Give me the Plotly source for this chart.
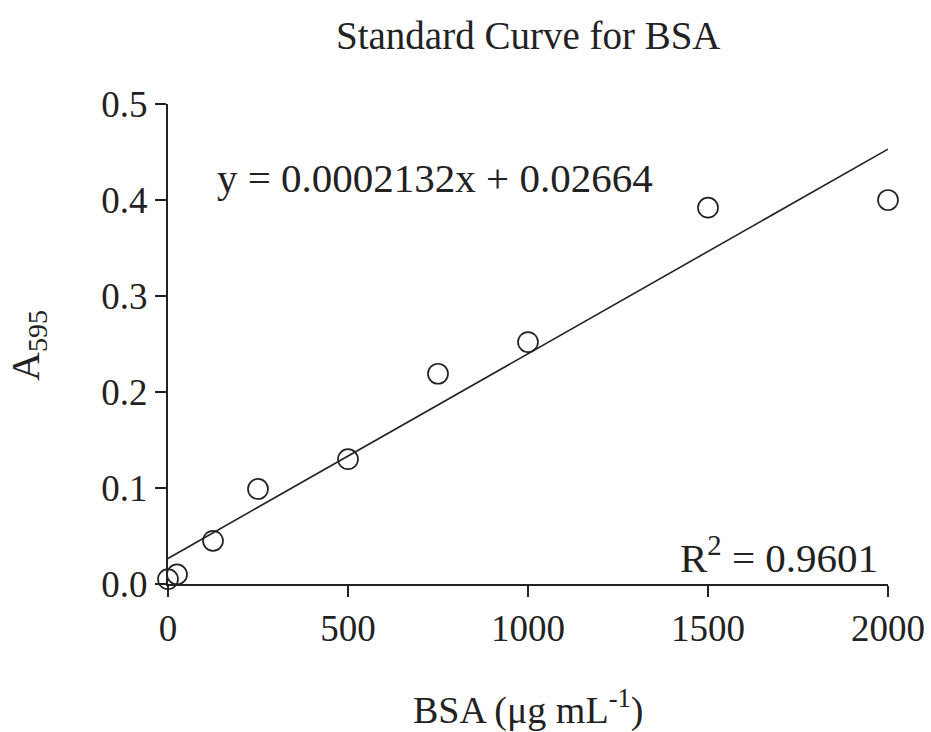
import plotly.graph_objects as go

bsa = [0, 25, 125, 250, 500, 750, 1000, 1500, 2000]
a595 = [0.005, 0.010, 0.045, 0.099, 0.130, 0.219, 0.252, 0.392, 0.400]
slope = 0.0002132
intercept = 0.02664
fit_x = [0, 2000]
fit_y = [slope * x + intercept for x in fit_x]
x_ticks = [0, 500, 1000, 1500, 2000]
y_ticks = [0.0, 0.1, 0.2, 0.3, 0.4, 0.5]

FONT = "Liberation Serif, Times New Roman, serif"
INK = "#222222"

fig = go.Figure()
fig.add_trace(go.Scatter(x=fit_x, y=fit_y, mode="lines",
                         line=dict(color=INK, width=1.6), showlegend=False, cliponaxis=False))
fig.add_trace(go.Scatter(x=bsa, y=a595, mode="markers",
                         marker=dict(symbol="circle-open", size=20, color=INK, line=dict(width=1.7, color=INK)),
                         showlegend=False, cliponaxis=False))

axis_common = dict(showgrid=False, zeroline=False, showline=True, linecolor=INK, linewidth=2,
                   ticks="outside", ticklen=11, tickwidth=2, tickcolor=INK, automargin=False,
                   tickfont=dict(family=FONT, size=37, color=INK))
fig.update_xaxes(range=[0, 2000], tickvals=x_ticks, ticktext=[str(v) for v in x_ticks], **axis_common)
fig.update_yaxes(range=[0, 0.5], tickvals=y_ticks, ticktext=[f"{v:.1f}" for v in y_ticks], **axis_common)

fig.update_layout(
    width=931, height=732,
    margin=dict(l=168, r=43, t=104, b=148, autoexpand=False),
    paper_bgcolor="white", plot_bgcolor="white",
    font=dict(family=FONT, color=INK),
    annotations=[
        dict(text="Standard Curve for BSA", xref="paper", yref="paper", x=0.5, y=1, yshift=69,
             showarrow=False, font=dict(size=39, family=FONT, color=INK), xanchor="center", yanchor="middle"),
        dict(text="y = 0.0002132x + 0.02664", xref="x", yref="y", x=130, y=0.423,
             showarrow=False, font=dict(size=41, family=FONT, color=INK), xanchor="left", yanchor="middle"),
        dict(text="R<sup>2</sup> = 0.9601", xref="x", yref="y", x=1978, y=0.030,
             showarrow=False, font=dict(size=41, family=FONT, color=INK), xanchor="right", yanchor="middle"),
        dict(text="BSA (μg mL<sup>-1</sup>)", xref="paper", yref="paper", x=0.5, y=0, yshift=-123,
             showarrow=False, font=dict(size=38, family=FONT, color=INK), xanchor="center", yanchor="middle"),
        dict(text="A<sub>595</sub>", xref="paper", yref="paper", x=0, xshift=-140, y=0.5, yshift=-2,
             showarrow=False, textangle=-90, font=dict(size=40, family=FONT, color=INK), xanchor="center", yanchor="middle"),
    ],
)
fig.write_html("out.html")
